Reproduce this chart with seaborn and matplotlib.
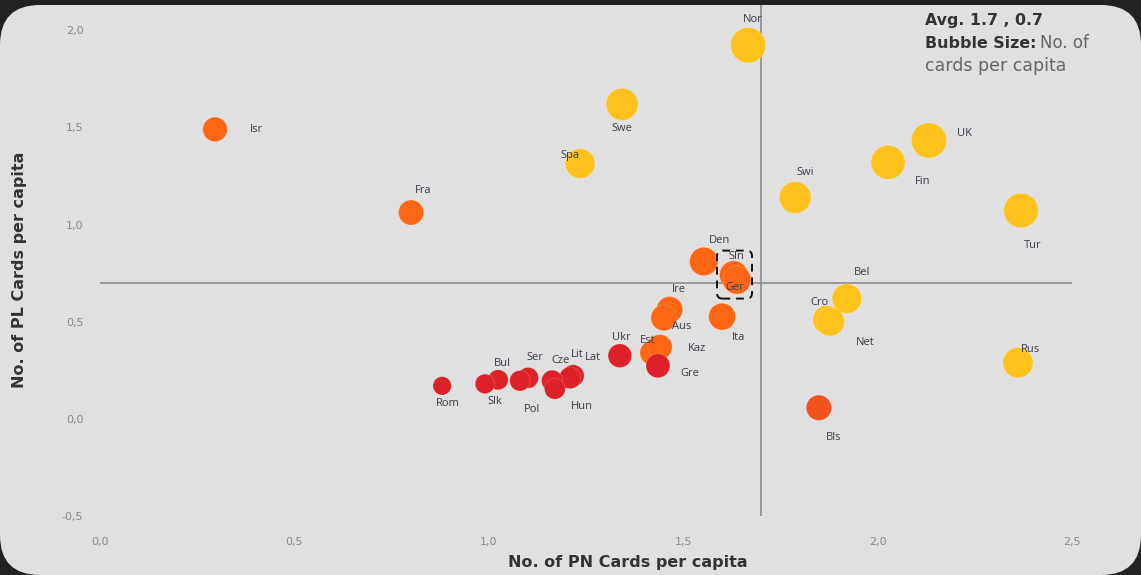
import matplotlib
matplotlib.use("Agg")
import matplotlib.pyplot as plt
import matplotlib.transforms as mtransforms
import seaborn as sns
import pandas as pd
from matplotlib.patches import FancyBboxPatch

# ---------------- data ----------------
countries = ["Nor", "Swe", "Spa", "Isr", "Fra", "UK", "Fin", "Swi", "Tur", "Bel",
             "Cro", "Net", "Rus", "Bls", "Den", "Sln", "Ger", "Ire", "Aus", "Ita",
             "Est", "Kaz", "Gre", "Ukr", "Lat", "Lit", "Cze", "Hun", "Ser", "Pol",
             "Bul", "Slk", "Rom"]
pn_cards = [1.667, 1.343, 1.235, 0.296, 0.800, 2.132, 2.027, 1.788, 2.369, 1.921,
            1.870, 1.878, 2.361, 1.849, 1.553, 1.630, 1.638, 1.465, 1.450, 1.600,
            1.420, 1.440, 1.435, 1.337, 1.217, 1.209, 1.163, 1.170, 1.101, 1.080,
            1.024, 0.990, 0.880]
pl_cards = [1.923, 1.619, 1.314, 1.490, 1.062, 1.433, 1.320, 1.139, 1.072, 0.619,
            0.510, 0.500, 0.289, 0.057, 0.810, 0.740, 0.715, 0.562, 0.520, 0.526,
            0.340, 0.370, 0.273, 0.325, 0.222, 0.211, 0.196, 0.155, 0.211, 0.196,
            0.201, 0.180, 0.170]
group = ["high", "high", "high", "mid", "mid", "high", "high", "high", "high", "high",
         "high", "high", "high", "bls", "mid", "mid", "mid", "mid", "mid", "mid",
         "mid", "mid", "low", "low", "low", "low", "low", "low", "low", "low",
         "low", "low", "low"]
avg_pn, avg_pl = 1.7, 0.7
x_ticks = [0.0, 0.5, 1.0, 1.5, 2.0, 2.5]
x_tick_labels = ["0,0", "0,5", "1,0", "1,5", "2,0", "2,5"]
y_ticks = [-0.5, 0.0, 0.5, 1.0, 1.5, 2.0]
y_tick_labels = ["-0,5", "0,0", "0,5", "1,0", "1,5", "2,0"]

df = pd.DataFrame({"country": countries, "pn": pn_cards, "pl": pl_cards, "group": group})
df["total"] = df["pn"] + df["pl"]

# label offsets in pixels (dx, dy; dy positive = up)
label_offsets = {
    "Nor": (5, 26), "Swe": (0, -24), "Spa": (-10, 8), "Isr": (41, 0), "Fra": (12, 22),
    "UK": (36, 7), "Fin": (35, -19), "Swi": (10, 25), "Tur": (12, -35), "Bel": (15, 26),
    "Cro": (-8, 17), "Net": (35, -21), "Rus": (12, 13), "Bls": (15, -30), "Den": (16, 21),
    "Sln": (3, 19), "Ger": (-2, -8), "Ire": (9, 20), "Aus": (18, -9), "Ita": (16, -21),
    "Est": (-4, 12), "Kaz": (37, -2), "Gre": (32, -8), "Ukr": (2, 18), "Lat": (20, 18),
    "Lit": (7, 23), "Cze": (8, 20), "Hun": (27, -18), "Ser": (7, 20), "Pol": (12, -29),
    "Bul": (4, 16), "Slk": (10, -18), "Rom": (6, -18),
}

W, H = 1141, 575
fig = plt.figure(figsize=(W / 100, H / 100), dpi=100)
fig.patch.set_facecolor("#222222")

# rounded light panel (display pixel coordinates)
panel = FancyBboxPatch((0, 0), W, H - 5,
                       boxstyle="round,pad=0,rounding_size=40",
                       transform=mtransforms.IdentityTransform(),
                       facecolor="#e0e0e0", edgecolor="none", zorder=-5)
fig.patches.append(panel)

ax = fig.add_axes([100 / W, 59 / H, 972 / W, 511 / H])
ax.set_facecolor("none")
ax.set_zorder(2)

palette = {"high": "#ffc21c", "mid": "#ff6614", "bls": "#f2521e", "low": "#dd2128"}

ax.axhline(avg_pl, color="#8c8c8c", lw=1.2, zorder=1)
ax.axvline(avg_pn, color="#8c8c8c", lw=1.2, zorder=1)

sns.scatterplot(data=df, x="pn", y="pl", hue="group", size="total",
                palette=palette, sizes=(175, 640), linewidth=0.6,
                edgecolor="#ffffff30", legend=False, ax=ax, zorder=3)

for c, xv, yv in zip(countries, pn_cards, pl_cards):
    dx, dy = label_offsets[c]
    ax.annotate(c, (xv, yv), xytext=(dx, dy), textcoords="offset pixels",
                ha="center", va="center", fontsize=8, color="#3a3a48",
                family="Open Sans", zorder=4)

# dashed highlight box around Sln / Ger
box = FancyBboxPatch((1.587, 0.619), 1.677 - 1.587, 0.866 - 0.619,
                     boxstyle="round,pad=0,rounding_size=0.014",
                     mutation_aspect=2.0, facecolor="none", edgecolor="#111111",
                     lw=1.4, linestyle=(0, (4, 3)), zorder=5)
ax.add_patch(box)

ax.set_xlim(0, 2.5)
ax.set_ylim(-0.5, 2.13)
ax.set_xticks(x_ticks)
ax.set_xticklabels(x_tick_labels)
ax.set_yticks(y_ticks)
ax.set_yticklabels(y_tick_labels)
ax.tick_params(axis="both", length=0, labelsize=8, labelcolor="#888888")
ax.tick_params(axis="x", pad=15)
ax.tick_params(axis="y", pad=12)
for s in ax.spines.values():
    s.set_visible(False)
ax.set_xlabel("")
ax.set_ylabel("")

fig.text(628 / W, 1 - 563 / H, "No. of PN Cards per capita", ha="center", va="center",
         fontsize=11.5, fontweight="bold", color="#333333", family="DejaVu Sans")
fig.text(20 / W, 1 - 270 / H, "No. of PL Cards per capita", ha="center", va="center",
         rotation=90, fontsize=11.5, fontweight="bold", color="#333333", family="DejaVu Sans")

fig.text(925 / W, 1 - 20 / H, "Avg. 1.7 , 0.7", ha="left", va="center",
         fontsize=11.4, fontweight="bold", color="#333333", family="DejaVu Sans")
fig.text(925 / W, 1 - 43 / H, "Bubble Size:", ha="left", va="center",
         fontsize=11.4, fontweight="bold", color="#333333", family="DejaVu Sans")
fig.text(1040 / W, 1 - 43 / H, "No. of", ha="left", va="center",
         fontsize=12, color="#666666", family="DejaVu Sans")
fig.text(925 / W, 1 - 66 / H, "cards per capita", ha="left", va="center",
         fontsize=12.5, color="#666666", family="DejaVu Sans")

fig.savefig("out.png", dpi=100, facecolor=fig.get_facecolor())
